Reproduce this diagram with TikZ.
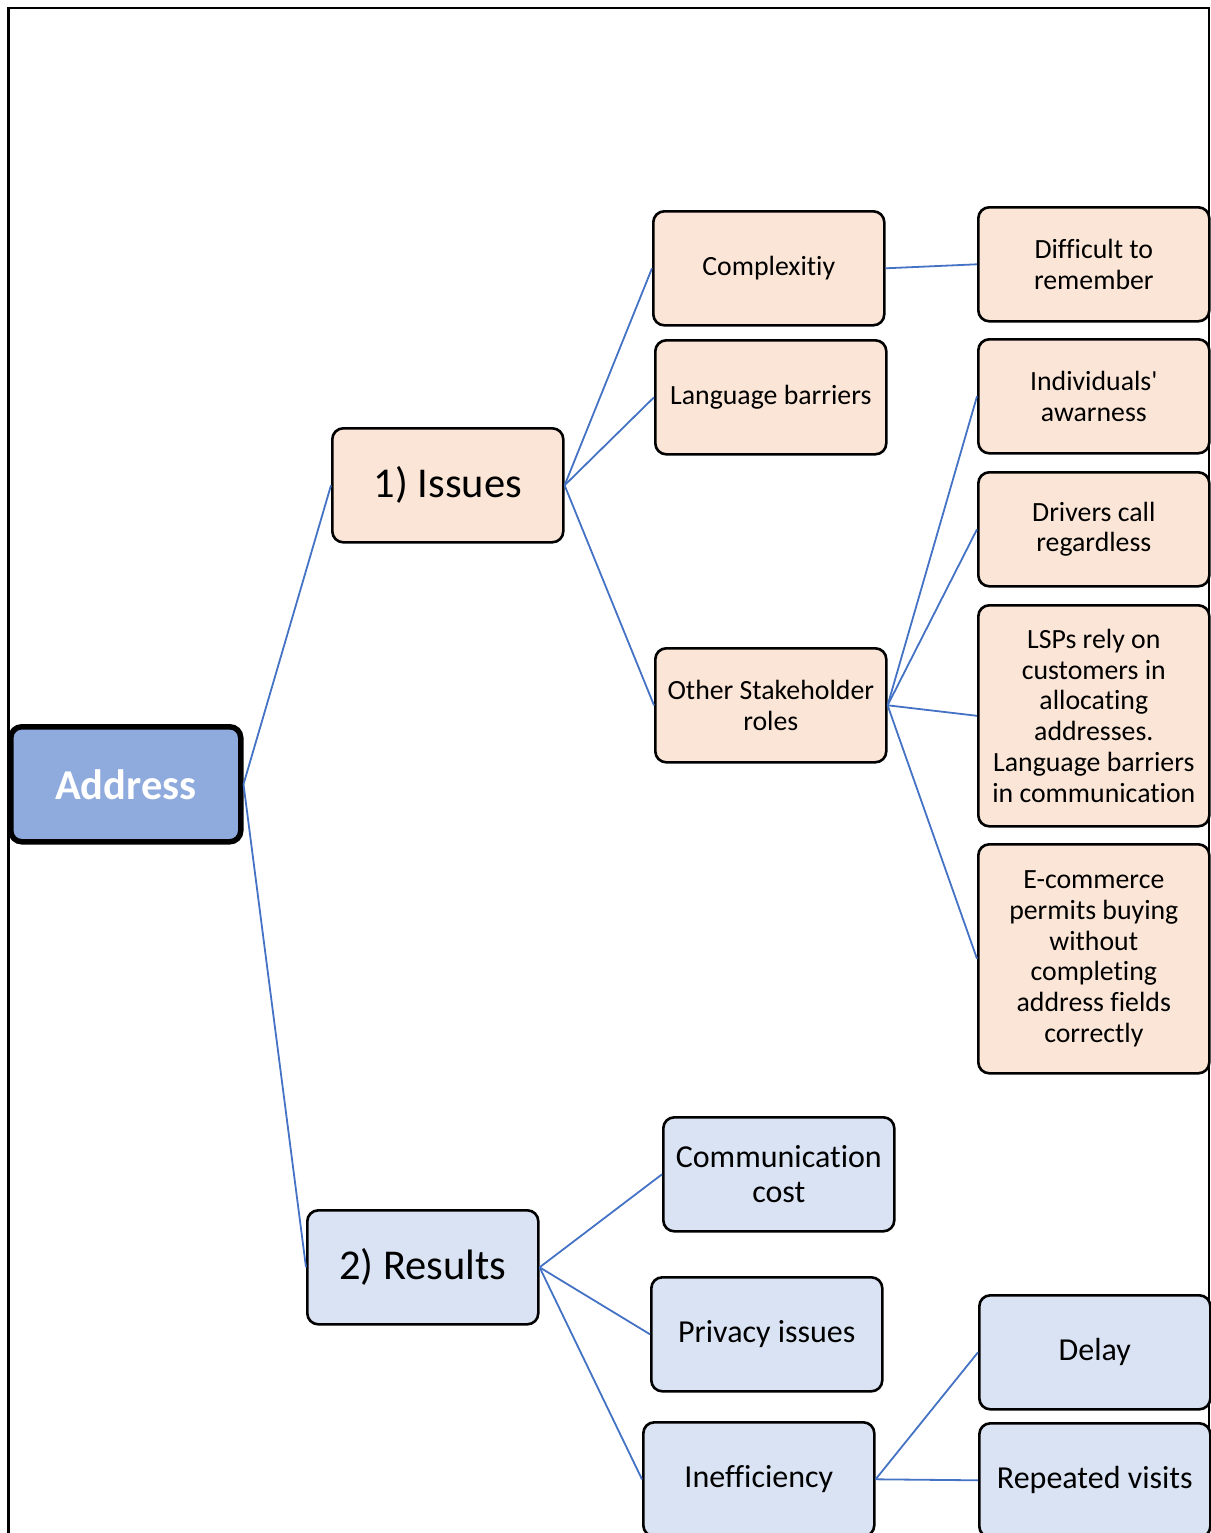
\documentclass[tikz,border=0pt]{standalone}
\usepackage{fontspec}
\setmainfont{Carlito}[Ligatures=NoCommon]
\definecolor{peach}{HTML}{FBE5D6}
\definecolor{paleblue}{HTML}{DAE3F3}
\definecolor{rootblue}{HTML}{8FAADC}
\definecolor{linkblue}{HTML}{4472C4}
\begin{document}
\begin{tikzpicture}[x=1pt,y=-1pt,
  box/.style={draw=black, line width=2.6pt, rounded corners=11pt, anchor=north west,
    minimum width=231pt, minimum height=114pt, align=center, inner sep=2pt,
    font=\fontsize{27.8}{30.8}\selectfont},
  issue/.style={box, fill=peach},
  result/.style={box, fill=paleblue},
  bigtext/.style={font=\fontsize{42.5}{48}\selectfont},
  midtext/.style={font=\fontsize{32}{35}\selectfont},
  link/.style={draw=linkblue, line width=1.8pt}]
\useasboundingbox (0,0) rectangle (1210,1533);
% page frame
\draw[line width=2.2pt] (8.5,1540) -- (8.5,8) -- (1209,8) -- (1209,1540);

% root
\node[box, fill=rootblue, line width=5.5pt, minimum width=230pt, minimum height=115pt,
  font=\fontsize{42.5}{48}\selectfont\bfseries, text=white] (addr) at (8,724) {Address};

% first level
\node[issue, bigtext] (iss) at (331,427) {1) Issues};
\node[result, bigtext] (res) at (306,1209) {2) Results};

% issues branch
\node[issue] (cplx) at (652,210) {Complexitiy};
\node[issue] (lang) at (654,339) {Language barriers};
\node[issue] (other) at (654,647) {Other Stakeholder\\roles};

\node[issue] (diff) at (977,206) {Difficult to\\remember};
\node[issue] (indiv) at (977,338) {Individuals\textquotesingle\\awarness};
\node[issue] (driv) at (977,471) {Drivers call\\regardless};
\node[issue, minimum height=221pt] (lsp) at (977,604)
  {LSPs rely on\\customers in\\allocating\\addresses.\\Language barriers\\in communication};
\node[issue, minimum height=229pt] (ecom) at (977,843)
  {E-commerce\\permits buying\\without\\completing\\address fields\\correctly};

% results branch
\node[result, midtext] (comm) at (662,1116) {Communication\\cost};
\node[result, midtext] (priv) at (650,1276) {Privacy issues};
\node[result, midtext] (ineff) at (642,1421) {Inefficiency};
\node[result, midtext] (delay) at (978,1294) {Delay};
\node[result, midtext] (rep) at (978,1422) {Repeated visits};

% connectors
\draw[link] (addr.east) -- (iss.west);
\draw[link] (addr.east) -- (res.west);
\draw[link] (iss.east) -- (cplx.west);
\draw[link] (iss.east) -- (lang.west);
\draw[link] (iss.east) -- (other.west);
\draw[link] (cplx.east) -- (diff.west);
\draw[link] (other.east) -- (indiv.west);
\draw[link] (other.east) -- (driv.west);
\draw[link] (other.east) -- (lsp.west);
\draw[link] (other.east) -- (ecom.west);
\draw[link] (res.east) -- (comm.west);
\draw[link] (res.east) -- (priv.west);
\draw[link] (res.east) -- (ineff.west);
\draw[link] (ineff.east) -- (delay.west);
\draw[link] (ineff.east) -- (rep.west);
\end{tikzpicture}
\end{document}
